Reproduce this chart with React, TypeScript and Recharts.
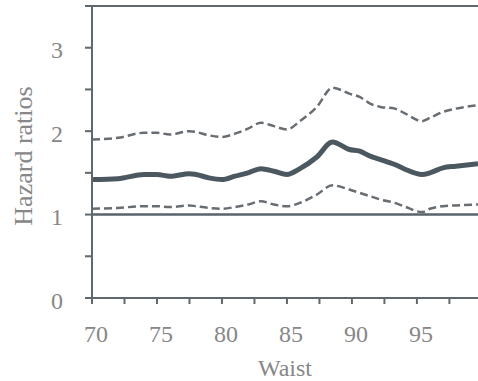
import React from "react";
import {
  LineChart,
  Line,
  XAxis,
  YAxis,
  ReferenceLine,
} from "recharts";

// waist circumference (x) and hazard ratio estimates with 95% bounds
const waist = [
  70, 72, 74, 75, 76, 77.5, 78, 79, 80, 81, 82, 83, 84, 85, 86, 87.3, 88.5,
  89.8, 90.6, 91.4, 92.2, 93.3, 94, 95.4, 96, 97, 98, 99.7,
];
const hazard = [
  1.42, 1.43, 1.48, 1.48, 1.46, 1.49, 1.48, 1.44, 1.42, 1.46, 1.5, 1.55, 1.52,
  1.48, 1.55, 1.69, 1.87, 1.78, 1.76, 1.7, 1.66, 1.6, 1.55, 1.48, 1.5, 1.56,
  1.58, 1.61,
];
const upper = [
  1.9, 1.92, 1.98, 1.98, 1.96, 2.0, 1.99, 1.95, 1.93, 1.97, 2.03, 2.1, 2.06,
  2.02, 2.12, 2.29, 2.52, 2.45, 2.41, 2.33, 2.29, 2.27, 2.22, 2.12, 2.16, 2.23,
  2.27, 2.31,
];
const lower = [
  1.07, 1.08, 1.1, 1.1, 1.09, 1.11, 1.1, 1.08, 1.07, 1.09, 1.12, 1.16, 1.12,
  1.1, 1.14, 1.24, 1.35, 1.3, 1.26, 1.22, 1.18, 1.14, 1.1, 1.03, 1.07, 1.1,
  1.11, 1.12,
];

const xTicks = [70, 72.5, 75, 77.5, 80, 82.5, 85, 87.5, 90, 92.5, 95, 97.5];
const yTicks = [0, 0.5, 1, 1.5, 2, 2.5, 3, 3.5];

const data = waist.map((w, i) => ({
  waist: w,
  hr: hazard[i],
  upper: upper[i],
  lower: lower[i],
}));

const FONT = '"Liberation Serif", "DejaVu Serif", serif';
const AXIS = "#5f686e";
const TEXT = "#878787";

export default function App() {
  return (
    <div
      style={{
        position: "fixed",
        left: 0,
        top: 0,
        width: 478,
        height: 381,
        overflow: "hidden",
        background: "#fff",
      }}
    >
      <LineChart
        width={478}
        height={381}
        data={data}
        margin={{ top: 6, right: 0, bottom: 0, left: 0 }}
      >
        <XAxis
          dataKey="waist"
          type="number"
          domain={[70, 99.7]}
          allowDataOverflow
          ticks={xTicks}
          interval={0}
          height={83}
          tickSize={6}
          tickMargin={21}
          stroke={AXIS}
          strokeWidth={2}
          tickFormatter={(v: number) => (v % 5 === 0 ? String(v) : "")}
          tick={{ fontSize: 24, fill: TEXT, fontFamily: FONT, dx: 4 }}
          label={(props: any) => {
            const vb = props.viewBox;
            return (
              <text
                x={vb.x + vb.width / 2}
                y={vb.y + 78}
                textAnchor="middle"
                fontSize={24}
                fontFamily={FONT}
                fill={TEXT}
              >
                Waist
              </text>
            );
          }}
        />
        <YAxis
          type="number"
          domain={[0, 3.5]}
          ticks={yTicks}
          interval={0}
          width={92}
          tickSize={7}
          tickMargin={22}
          stroke={AXIS}
          strokeWidth={2}
          tickFormatter={(v: number) =>
            Number.isInteger(v) ? String(v) : ""
          }
          tick={{ fontSize: 24, fill: TEXT, fontFamily: FONT, dy: 2 }}
          label={(props: any) => {
            const vb = props.viewBox;
            const cx = vb.x + 23;
            const cy = vb.y + vb.height / 2 + 4;
            return (
              <text
                x={cx}
                y={cy}
                transform={`rotate(-90, ${cx}, ${cy})`}
                textAnchor="middle"
                dominantBaseline="central"
                fontSize={26}
                fontFamily={FONT}
                fill={TEXT}
              >
                Hazard ratios
              </text>
            );
          }}
        />
        <ReferenceLine y={3.5} stroke={AXIS} strokeWidth={2} />
        <ReferenceLine y={1} stroke="#59636a" strokeWidth={2.5} />
        <Line
          type="monotone"
          dataKey="upper"
          stroke="#686d72"
          strokeWidth={2.5}
          strokeDasharray="8 4"
          dot={false}
          isAnimationActive={false}
        />
        <Line
          type="monotone"
          dataKey="lower"
          stroke="#686d72"
          strokeWidth={2.5}
          strokeDasharray="8 4"
          dot={false}
          isAnimationActive={false}
        />
        <Line
          type="monotone"
          dataKey="hr"
          stroke="#4c5860"
          strokeWidth={5}
          dot={false}
          isAnimationActive={false}
        />
      </LineChart>
    </div>
  );
}
